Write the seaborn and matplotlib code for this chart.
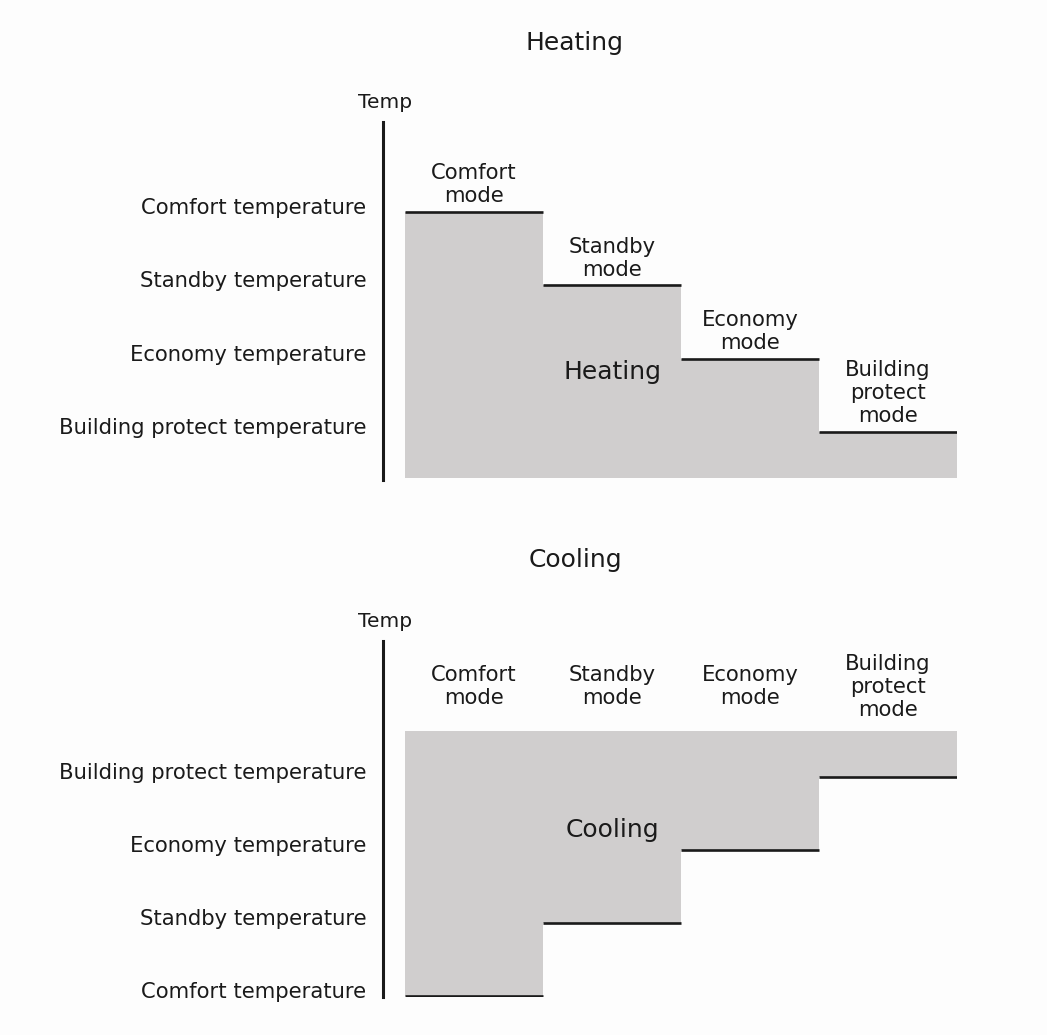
import seaborn as sns
import matplotlib.pyplot as plt
import matplotlib.transforms as mtransforms
import numpy as np

modes = ["Comfort\nmode", "Standby\nmode", "Economy\nmode", "Building\nprotect\nmode"]
temp_names = ["Comfort temperature", "Standby temperature", "Economy temperature",
              "Building protect temperature"]
heating_levels = [4, 3, 2, 1]
cooling_levels = [1, 2, 3, 4]

sns.set_theme(style="white")
plt.rcParams['font.family'] = ['DejaVu Sans']

W, H = 1047, 1035
fig = plt.figure(figsize=(W / 100, H / 100), dpi=100, facecolor="#fdfdfd")

gray = "#d0cece"
ink = "#1a1a1a"
ppu = 138.0  # pixels per mode
lev_px = 73.3  # pixels per temperature level
fs = 15.2


def make_ax(top_px, bottom_px):
    left_px, right_px = 383, 957
    return fig.add_axes([left_px / W, 1 - bottom_px / H,
                         (right_px - left_px) / W, (bottom_px - top_px) / H])


def style_ax(ax, levels):
    ax.set_facecolor("none")
    ax.set_xlim(-22 / ppu, 4)
    sns.despine(ax=ax, left=False, bottom=True, right=True, top=True)
    ax.spines["left"].set_color(ink)
    ax.spines["left"].set_linewidth(2.2)
    ax.set_xticks([])
    ax.set_yticks(levels)
    ax.set_yticklabels(temp_names, fontsize=fs, color=ink)
    ax.tick_params(axis="y", length=0, pad=12)
    off = mtransforms.ScaledTranslation(0, 6 / 100, fig.dpi_scale_trans)
    for lab in ax.get_yticklabels():
        lab.set_transform(lab.get_transform() + off)
    ax.text(0, 1.0, "Temp", transform=ax.transAxes + mtransforms.ScaledTranslation(
        2 / 100, 10 / 100, fig.dpi_scale_trans), ha="center", va="bottom",
        fontsize=14.5, color=ink)


x = np.arange(4) + 0.5

# Heating
ax1 = make_ax(122, 480)
ax1.set_ylim(1 - 48 / lev_px, 4 + 90 / lev_px)
base = 1 - 46 / lev_px
ax1.bar(x, np.array(heating_levels) - base, bottom=base, width=1.0, color=gray, linewidth=0)
ax1.hlines(heating_levels, x - 0.5, x + 0.5, color=ink, linewidth=1.9)
for xi, lv, m in zip(x, heating_levels, modes):
    ax1.annotate(m, (xi, lv), xytext=(0, 4), textcoords="offset points",
                 ha="center", va="bottom", fontsize=fs, color=ink, linespacing=1.2)
ax1.text(1.5, 1 + (432 - 372) / lev_px, "Heating", ha="center", va="center",
         fontsize=18, color=ink)
style_ax(ax1, heating_levels)
fig.text(575 / W, 1 - 43 / H, "Heating", ha="center", va="center", fontsize=18, color=ink)

# Cooling
ax2 = make_ax(641, 997)
ax2.set_ylim(1 - 1 / lev_px, 1 + 356 / lev_px)
top = 4 + 46 / lev_px
ax2.bar(x, top - np.array(cooling_levels), bottom=cooling_levels, width=1.0,
        color=gray, linewidth=0)
ax2.hlines(cooling_levels, x - 0.5, x + 0.5, color=ink, linewidth=1.9)
label_y = 1 + (998 - 688) / lev_px
for xi, m in zip(x, modes):
    ax2.text(xi, label_y, m, ha="center", va="center", fontsize=fs, color=ink,
             linespacing=1.2)
ax2.text(1.5, 1 + (998 - 832) / lev_px, "Cooling", ha="center", va="center",
         fontsize=18, color=ink)
style_ax(ax2, cooling_levels)
fig.text(575 / W, 1 - 560 / H, "Cooling", ha="center", va="center", fontsize=18, color=ink)

fig.savefig("out.png", dpi=100, facecolor=fig.get_facecolor())
